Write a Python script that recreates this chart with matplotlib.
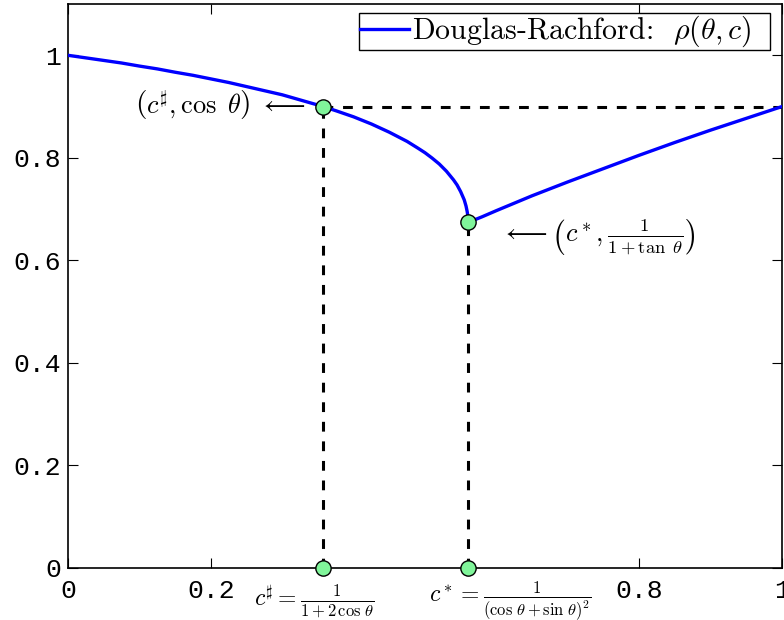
import matplotlib
matplotlib.use("Agg")
import matplotlib.pyplot as plt
import matplotlib.transforms as mtransforms
from matplotlib.patches import Rectangle

plt.rcParams['mathtext.fontset'] = 'cm'

# convergence rate of Douglas-Rachford vs. relaxation parameter c (cos(theta) = 0.9)
c_vals = [0.0, 0.025, 0.05, 0.075, 0.10, 0.125, 0.15, 0.175, 0.20, 0.225, 0.25, 0.275,
          0.30, 0.325, 0.35, 0.357, 0.375, 0.40, 0.425, 0.45, 0.475, 0.49, 0.50,
          0.51, 0.52, 0.53, 0.54, 0.545, 0.55, 0.555, 0.5575, 0.559, 0.5595, 0.5601, 0.56035,
          0.58, 0.60, 0.625, 0.65, 0.70, 0.75, 0.80, 0.85, 0.90, 0.95, 1.0]
rho_vals = [1.0, 0.995, 0.990, 0.985, 0.979, 0.9735, 0.967, 0.961, 0.954, 0.947, 0.939, 0.931,
            0.923, 0.913, 0.903, 0.900, 0.892, 0.880, 0.866, 0.850, 0.832, 0.819, 0.810,
            0.7995, 0.788, 0.774, 0.757, 0.747, 0.734, 0.718, 0.706, 0.696, 0.692, 0.684, 0.674,
            0.685, 0.697, 0.7115, 0.726, 0.753, 0.779, 0.805, 0.830, 0.854, 0.877, 0.900]

# special points
c_sharp, rho_sharp = 0.357, 0.900
c_star, rho_star = 0.56035, 0.674

xticks = [0, 0.2, 0.8, 1]
xtick_labels = ['0', '0.2', '0.8', '1']
yticks = [0, 0.2, 0.4, 0.6, 0.8, 1]
ytick_labels = ['0', '0.2', '0.4', '0.6', '0.8', '1']

fig = plt.figure(figsize=(7.84, 6.2), dpi=100)
ax = fig.add_axes([0.0867, 0.0839, 0.9107, 0.9096])

ax.plot(c_vals, rho_vals, color='#0000ff', lw=2.4, zorder=3,
        label=r'Douglas-Rachford:  $\rho(\theta, c)$')

dash_kw = dict(color='black', lw=2.2, dashes=(3.2, 3.2), zorder=2)
ax.plot([c_sharp, c_sharp], [0, rho_sharp], **dash_kw)
ax.plot([c_sharp, 1], [rho_sharp, rho_sharp], **dash_kw)
ax.plot([c_star, c_star], [0, rho_star], **dash_kw)

ax.plot([c_sharp, c_star, c_sharp, c_star], [rho_sharp, rho_star, 0, 0], 'o',
        ms=11, mfc='#80f59a', mec='black', mew=1.0, zorder=5, clip_on=False)

ax.set_xlim(0, 1)
ax.set_ylim(0, 1.1)
ax.set_xticks(xticks)
ax.set_xticklabels(xtick_labels)
ax.set_yticks(yticks)
ax.set_yticklabels(ytick_labels)
ax.tick_params(direction='in', length=7, width=0.8, top=True, right=True,
               labelsize=19, labelfontfamily='Liberation Mono')
ax.tick_params(axis='x', pad=8)
ax.tick_params(axis='y', pad=5)
for s in ax.spines.values():
    s.set_linewidth(1.2)

# annotations
ax.text(0.332, 0.9025, r'$\left(c^\sharp, \cos\ \theta\right)\ \longleftarrow$',
        ha='right', va='center', fontsize=19)
ax.text(0.607, 0.645, r'$\longleftarrow\left(c^*, \frac{1}{1+\tan\ \theta}\right)$',
        ha='left', va='center', fontsize=19)

trans = mtransforms.blended_transform_factory(ax.transData, ax.transAxes)
ax.text(0.345, -0.058, r'$c^\sharp = \frac{1}{1+2\,\cos\,\theta}$',
        ha='center', va='center', fontsize=17, transform=trans)
ax.text(0.620, -0.058, r'$c^* = \frac{1}{(\cos\,\theta+\sin\,\theta)^2}$',
        ha='center', va='center', fontsize=17, transform=trans)

# legend without its own frame; a box with extra room on the right is drawn behind it
leg = ax.legend(loc='upper right', bbox_to_anchor=(0.959, 0.984),
                prop={'family': 'cmr10', 'size': 21.5}, frameon=False,
                handlelength=1.65, handletextpad=0.1, borderpad=0.03,
                borderaxespad=0)
fig.canvas.draw()
bb = leg.get_window_extent().transformed(ax.transAxes.inverted())
box = Rectangle((bb.x0, bb.y0), 0.983 - bb.x0, bb.height, transform=ax.transAxes,
                facecolor='white', edgecolor='black', lw=1.0, zorder=4.5)
ax.add_patch(box)

fig.savefig('out.png', dpi=100)
